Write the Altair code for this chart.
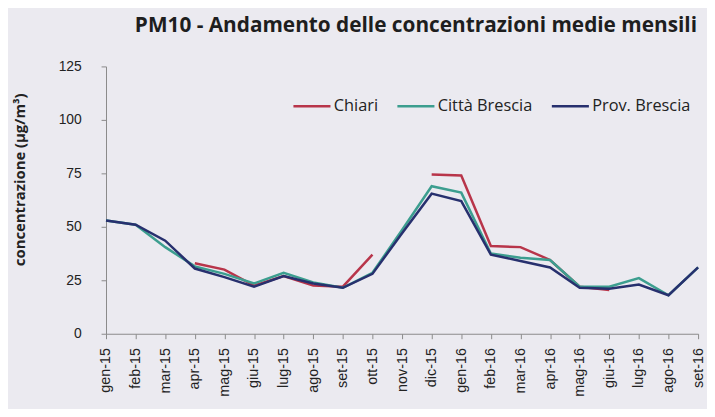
import altair as alt
import pandas as pd

months = ["gen-15", "feb-15", "mar-15", "apr-15", "mag-15", "giu-15", "lug-15",
          "ago-15", "set-15", "ott-15", "nov-15", "dic-15", "gen-16", "feb-16",
          "mar-16", "apr-16", "mag-16", "giu-16", "lug-16", "ago-16", "set-16"]

chiari = [None, None, None, 33, 30, 22.5, 27, 22.5, 22, 37, None, 74.5,
          74, 41, 40.5, 34.5, 22, 20.5, None, None, None]
citta_brescia = [53, 51, 40.5, 31.5, 28, 23.5, 28.5, 24, 21.5, 28.5, 48.5, 69,
                 66, 37.5, 35.5, 34.5, 22, 22, 26, 18, 31]
prov_brescia = [53, 51, 43.5, 30.5, 26.5, 22, 27, 23.5, 21.5, 28, 47, 65.5,
                62, 37, 34, 31, 21.5, 21, 23, 18, 31]

series_names = ["Chiari", "Città Brescia", "Prov. Brescia"]
series_colors = ["#b8354a", "#3c9e8f", "#27306e"]

rows = []
for name, vals in zip(series_names, [chiari, citta_brescia, prov_brescia]):
    seg = 0
    gap = True
    for m, v in zip(months, vals):
        if v is None:
            gap = True
            continue
        if gap:
            seg += 1
            gap = False
        rows.append({"mese": m, "serie": name, "valore": v, "seg": f"{name}-{seg}"})
df = pd.DataFrame(rows)

chart = alt.Chart(df).mark_line(strokeWidth=2.5).encode(
    x=alt.X("mese:N", sort=months,
            scale=alt.Scale(type="point", padding=0, domain=months),
            axis=alt.Axis(title=None, labelAngle=270, labelFont="Liberation Sans",
                          labelFontSize=14.5, labelColor="#222222", labelPadding=9,
                          tickSize=5, domainColor="#8a8a8a", tickColor="#8a8a8a")),
    y=alt.Y("valore:Q", scale=alt.Scale(domain=[0, 125]),
            axis=alt.Axis(values=[0, 25, 50, 75, 100, 125], grid=False,
                          title="concentrazione (µg/m³)", titleFont="Open Sans",
                          titleFontWeight="bold", titleFontSize=15, titleColor="#222222",
                          titleAngle=270, titleX=-79, titleY=114,
                          labelFont="Liberation Sans", labelFontSize=14,
                          labelColor="#222222", labelPadding=20, tickSize=5,
                          domainColor="#8a8a8a", tickColor="#8a8a8a")),
    color=alt.Color("serie:N",
                    scale=alt.Scale(domain=series_names, range=series_colors),
                    legend=alt.Legend(title=None, orient="none", legendX=188, legendY=20,
                                      direction="horizontal", symbolType="stroke",
                                      symbolSize=1400, symbolStrokeWidth=2.5,
                                      labelFont="Open Sans", labelFontSize=16.5,
                                      labelColor="#222222", columnPadding=14,
                                      labelOffset=2)),
    detail="seg:N",
).properties(
    width=598,
    height=270,
    autosize=alt.AutoSizeParams(type="none"),
    padding={"left": 99, "top": 57, "right": 9, "bottom": 74},
    background="#ebeaf0",
    title=alt.TitleParams("PM10 - Andamento delle concentrazioni medie mensili",
                          font="Open Sans", fontSize=21, fontWeight="bold",
                          color="#1e1e1e", dx=14, offset=24),
).configure_view(stroke=None)

chart.save("out.html", embed_options={"renderer": "svg", "actions": False})
